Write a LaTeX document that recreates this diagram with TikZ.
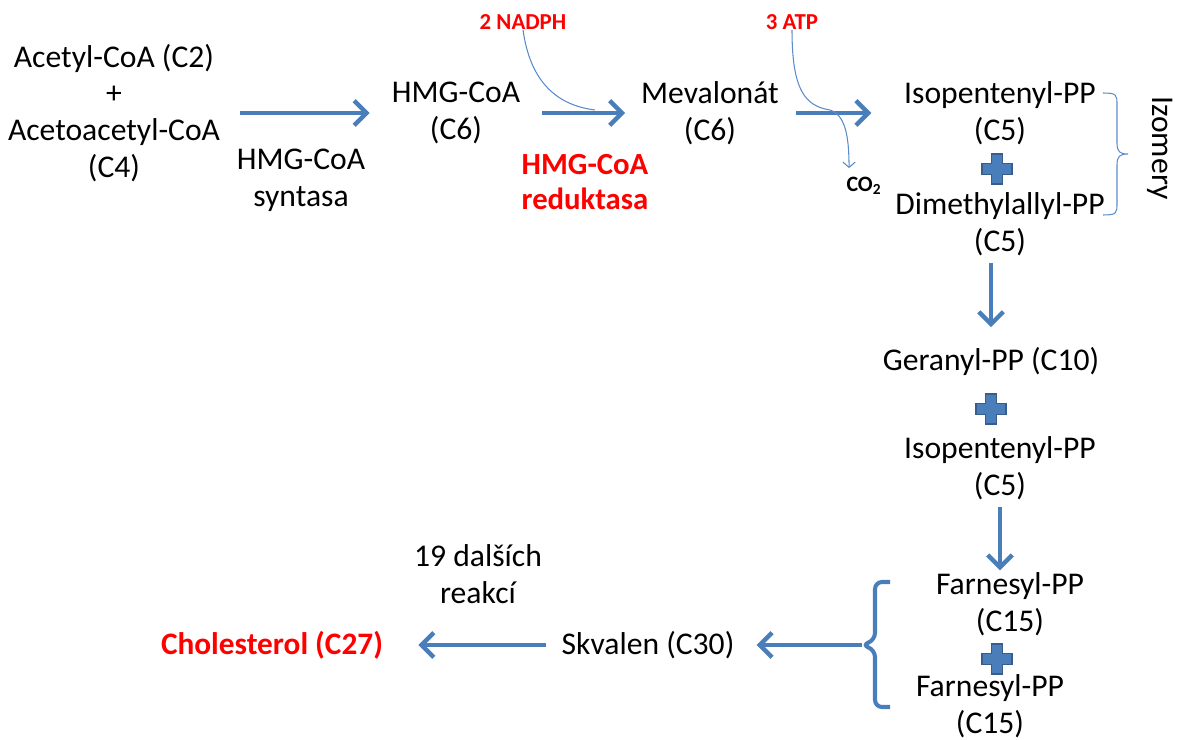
\documentclass[tikz,border=0pt]{standalone}
\usepackage{fontspec}
\setmainfont{Carlito}
\usetikzlibrary{arrows.meta,positioning}
\definecolor{flowblue}{HTML}{4A7EBB}
\definecolor{crossedge}{HTML}{385D8A}
\definecolor{sideblue}{HTML}{5B8BCB}
\tikzset{every node/.append style={font=\fontsize{18}{21}\selectfont}}
\tikzset{compound/.style={align=center, inner sep=0pt}}
\tikzset{enzyme/.style={align=center, inner sep=0pt, text=red,
    font=\fontsize{17.5}{20}\selectfont\bfseries}}
\tikzset{product/.style={inner sep=0pt, text=red,
    font=\fontsize{17.8}{21}\selectfont\bfseries}}
\tikzset{cofactor/.style={inner sep=0pt, text=red,
    font=\fontsize{13}{15}\selectfont\bfseries}}
\tikzset{flow/.style={draw=flowblue, line width=2.5pt,
    -{Straight Barb[length=7pt,width=14pt]}}}
\tikzset{side/.style={draw=sideblue, line width=0.6pt}}
\tikzset{plusmark/.pic={
    \filldraw[fill=flowblue, draw=crossedge, line width=1pt]
    (-15,-5.5) -- (-5.5,-5.5) -- (-5.5,-15) -- (5.5,-15) -- (5.5,-5.5)
    -- (15,-5.5) -- (15,5.5) -- (5.5,5.5) -- (5.5,15) -- (-5.5,15)
    -- (-5.5,5.5) -- (-15,5.5) -- cycle;
  }}

\begin{document}
\begin{tikzpicture}[x=0.02cm, y=-0.02cm]
  \useasboundingbox (0,0) rectangle (1178,740);

  % upper row
  \node[compound] (acetyl) at (114,113) {Acetyl-CoA (C2)\\+\\Acetoacetyl-CoA\\(C4)};
  \node[compound] (syntasa) at (301,180) {HMG-CoA\\syntasa};
  \node[compound] (hmg) at (456,113) {HMG-CoA\\(C6)};
  \node[enzyme] (reduktasa) at (585,182) {HMG-CoA\\reduktasa};
  \node[cofactor] (nadph) at (523,22) {2 NADPH};
  \node[cofactor] (atp) at (792,22) {3 ATP};
  \node[compound] (mevalonat) at (710,113) {Mevalonát\\(C6)};
  \node[inner sep=0pt, font=\fontsize{12.5}{14}\selectfont\bfseries] (co2) at (864,186) {CO\textsubscript{2}};
  \node[compound] (iso1) at (1000,113) {Isopentenyl-PP\\(C5)};
  \pic at (997,169) {plusmark};
  \node[compound] (dimethyl) at (1000,224) {Dimethylallyl-PP\\(C5)};
  \node[compound, rotate=-90] (izomery) at (1160,148) {Izomery};

  \draw[flow, shorten <=11pt, shorten >=12.5pt] (acetyl) -- (hmg);
  \draw[flow, shorten <=12.5pt, shorten >=9pt] (hmg) -- (mevalonat);
  \draw[flow, shorten <=9.5pt, shorten >=18.5pt] (mevalonat) -- (iso1);
  \draw[side] (nadph.south) .. controls (530,80) and (555,105) .. (595,110);
  \draw[side, -{Straight Barb[length=3pt,width=7pt]}] (atp.south)
    .. controls (792,90) and (805,106) .. (830,110)
    .. controls (845,115) and (849,135) .. ([xshift=-8.5pt,yshift=5pt]co2.north);
  \draw[side] (1103,93) .. controls (1117,93) and (1117,95) .. (1117,105) -- (1117,143)
    .. controls (1117,152) and (1120,154) .. (1128,154)
    .. controls (1120,154) and (1117,156) .. (1117,165) -- (1117,203)
    .. controls (1117,213) and (1117,215) .. (1103,215);

  % right column
  \node[compound] (geranyl) at (991,361) {Geranyl-PP (C10)};
  \pic at (991,409) {plusmark};
  \node[compound] (iso2) at (1000,468) {Isopentenyl-PP\\(C5)};
  \node[compound] (farn1) at (1010,604) {Farnesyl-PP\\(C15)};
  \pic at (997,659) {plusmark};
  \node[compound] (farn2) at (990,706) {Farnesyl-PP\\(C15)};

  \draw[flow, shorten <=4pt, shorten >=11pt] (dimethyl.south -| geranyl) -- (geranyl.north);
  \draw[flow, shorten <=4pt, shorten >=1pt] (iso2) -- (iso2 |- farn1.north);
  \coordinate (farntip) at (862,645);
  \draw[flowblue, line width=2.3pt, rounded corners=4]
    (890,582) -- (875,582) -- (875,640) -- (farntip) -- (875,650) -- (875,707) -- (890,707);

  % bottom row
  \node[compound] (skvalen) at (648,645) {Skvalen (C30)};
  \node[compound] (reakce) at (478,574) {19 dalších\\reakcí};
  \node[product] (cholesterol) at (272,645) {Cholesterol (C27)};

  \draw[flow, shorten >=12.5pt] (farntip) -- (farntip -| skvalen.east);
  \draw[flow, shorten <=8.5pt, shorten >=20pt] (skvalen) -- (cholesterol);
\end{tikzpicture}
\end{document}
